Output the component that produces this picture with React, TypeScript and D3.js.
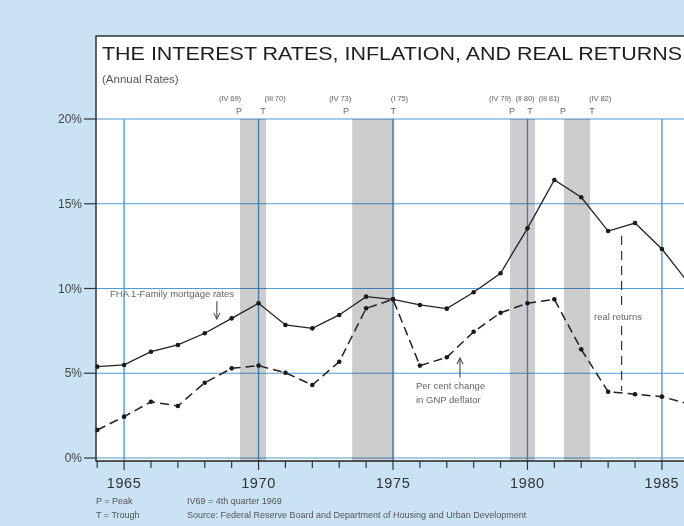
import React from 'react'
import * as d3 from 'd3'

const years = [1964, 1965, 1966, 1967, 1968, 1969, 1970, 1971, 1972, 1973, 1974, 1975,
  1976, 1977, 1978, 1979, 1980, 1981, 1982, 1983, 1984, 1985, 1986]
const mortgageRates = [5.39, 5.49, 6.27, 6.67, 7.36, 8.24, 9.13, 7.85, 7.65, 8.44, 9.52, 9.36,
  9.03, 8.81, 9.78, 10.9, 13.55, 16.4, 15.38, 13.39, 13.86, 12.33, 10.3]
const gnpDeflator = [1.65, 2.44, 3.32, 3.07, 4.44, 5.29, 5.45, 5.03, 4.31, 5.68, 8.83, 9.36,
  5.45, 5.94, 7.45, 8.57, 9.13, 9.36, 6.41, 3.91, 3.76, 3.62, 3.19]

const yTicks = [0, 5, 10, 15, 20]
const yearLabels = [1965, 1970, 1975, 1980, 1985]

// business cycle bands (decimal years) with their quarter labels
const recessionStarts = [1969.31, 1973.48, 1979.35, 1981.36]
const recessionEnds = [1970.28, 1975.05, 1980.28, 1982.33]
const peakLabels = ['(IV 69)', '(IV 73)', '(IV 79)', '(III 81)']
const troughLabels = ['(III 70)', '(I 75)', '(II 80)', '(IV 82)']

// real returns marker
const realReturnYear = 1983.5
const realReturnSpan = [13.1, 3.95]

// layout nudges for quarter labels (px), not data
const peakNudge = [-10, -12, -10, -15]
const troughNudge = [9, 5, -10, 10]
const letterNudgeP = [-1, -6, 2, -1]
const letterNudgeT = [-3, -1, -5, 2]

const W = 684
const H = 526
const BG = '#c9e2f4'
const GRID = '#4d9bd8'
const FONT = '"Liberation Sans", Arial, Helvetica, sans-serif'

export default function App() {
  const x = d3.scaleLinear().domain([1964, 1986]).range([97.2, 688.8])
  const y = d3.scaleLinear().domain([0, 20]).range([458, 119])

  const panelLeft = 95.5
  const panelTop = 36
  const axisY = 461

  const mortgagePts = years.map((yr, i) => [yr, mortgageRates[i]] as [number, number])
  const gnpPts = years.map((yr, i) => [yr, gnpDeflator[i]] as [number, number])

  const line = d3.line<[number, number]>()
    .x(d => x(d[0]))
    .y(d => y(d[1]))

  return (
    <svg width={W} height={H} style={{ position: 'absolute', left: 0, top: 0, fontFamily: FONT }}>
      <defs>
        <marker id="arrow" viewBox="0 0 10 10" refX="9" refY="5" markerWidth="7" markerHeight="7" orient="auto-start-reverse">
          <path d="M1,1 L9,5 L1,9" fill="none" stroke="#444" strokeWidth={1.3} />
        </marker>
        <clipPath id="plotClip">
          <rect x={panelLeft} y={panelTop} width={W - panelLeft} height={axisY - panelTop} />
        </clipPath>
      </defs>

      <rect x={0} y={0} width={W} height={H} fill={BG} />
      <rect x={panelLeft} y={panelTop} width={W - panelLeft} height={axisY - panelTop} fill="#fff" />
      <line x1={panelLeft} x2={W} y1={panelTop} y2={panelTop} stroke="#333" strokeWidth={1.6} />

      <text x={102} y={60} fontSize={18.5} fill="#1e1e1e" textLength={580} lengthAdjust="spacingAndGlyphs">
        THE INTEREST RATES, INFLATION, AND REAL RETURNS
      </text>
      <text x={102} y={83} fontSize={11.5} fill="#555">(Annual Rates)</text>

      {/* grid */}
      {yTicks.map(t => (
        <line key={'h' + t} x1={panelLeft} x2={W} y1={y(t)} y2={y(t)} stroke={GRID} strokeWidth={1.2} />
      ))}
      {yearLabels.map(yr => (
        <line key={'v' + yr} x1={x(yr)} x2={x(yr)} y1={y(20)} y2={axisY} stroke={GRID} strokeWidth={1.4} />
      ))}

      {/* recession bands */}
      {recessionStarts.map((s, i) => (
        <rect key={'r' + i} x={x(s)} width={x(recessionEnds[i]) - x(s)} y={y(20)} height={axisY - y(20)}
          fill="#cdcdcd" style={{ mixBlendMode: 'multiply' }} />
      ))}
      {recessionStarts.map((s, i) => (
        <g key={'rl' + i} fontSize={7.8} fill="#666" textAnchor="middle">
          <text x={x(s) + peakNudge[i]} y={101} letterSpacing={-0.2}>{peakLabels[i]}</text>
          <text x={x(recessionEnds[i]) + troughNudge[i]} y={101} letterSpacing={-0.2}>{troughLabels[i]}</text>
          <text x={x(s) + letterNudgeP[i]} y={114} fontSize={9}>P</text>
          <text x={x(recessionEnds[i]) + letterNudgeT[i]} y={114} fontSize={9}>T</text>
        </g>
      ))}

      {/* y axis */}
      <line x1={panelLeft + 0.5} x2={panelLeft + 0.5} y1={panelTop} y2={axisY} stroke="#222" strokeWidth={1.4} />
      {yTicks.map(t => (
        <g key={'yt' + t}>
          <line x1={84} x2={panelLeft} y1={y(t)} y2={y(t)} stroke="#333" strokeWidth={1.2} />
          <text x={82} y={y(t)} dy="0.35em" textAnchor="end" fontSize={12} fill="#444">{t}%</text>
        </g>
      ))}

      {/* x axis */}
      <line x1={panelLeft} x2={W} y1={axisY} y2={axisY} stroke="#222" strokeWidth={1.6} />
      {years.map(yr => (
        <line key={'xt' + yr} x1={x(yr)} x2={x(yr)} y1={axisY} y2={axisY + (yr % 5 === 0 ? 9 : 7)} stroke="#333" strokeWidth={1.2} />
      ))}
      {yearLabels.map(yr => (
        <text key={'xl' + yr} x={x(yr)} y={488} textAnchor="middle" fontSize={14.5} letterSpacing={0.6} fill="#333">{yr}</text>
      ))}

      {/* series */}
      <g clipPath="url(#plotClip)">
        <path d={line(mortgagePts) ?? ''} fill="none" stroke="#222" strokeWidth={1.3} />
        <path d={line(gnpPts) ?? ''} fill="none" stroke="#222" strokeWidth={1.5} strokeDasharray="9 5" />
        {mortgagePts.map((d, i) => (
          <circle key={'m' + i} cx={x(d[0])} cy={y(d[1])} r={2.3} fill="#1a1a1a" />
        ))}
        {gnpPts.map((d, i) => (
          <circle key={'g' + i} cx={x(d[0])} cy={y(d[1])} r={2.3} fill="#1a1a1a" />
        ))}

        {/* real returns */}
        <line x1={x(realReturnYear)} x2={x(realReturnYear)} y1={y(realReturnSpan[0])} y2={y(realReturnSpan[1])}
          stroke="#333" strokeWidth={1.2} strokeDasharray="9 6" />
        <rect x={x(realReturnYear) - 27} y={310} width={50} height={12} fill="#fff" />
        <text x={594} y={320} fontSize={9.5} fill="#666">real returns</text>
      </g>

      {/* annotations */}
      <text x={110} y={297} fontSize={9.5} fill="#666">FHA 1-Family mortgage rates</text>
      <line x1={x(1968.45)} x2={x(1968.45)} y1={y(9.25)} y2={y(8.2)} stroke="#444" strokeWidth={1.1} markerEnd="url(#arrow)" />
      <text x={416} y={389} fontSize={9.5} fill="#666">Per cent change</text>
      <text x={416} y={403} fontSize={9.5} fill="#666">in GNP deflator</text>
      <line x1={x(1977.49)} x2={x(1977.49)} y1={y(4.75)} y2={y(5.9)} stroke="#444" strokeWidth={1.1} markerEnd="url(#arrow)" />

      {/* footnotes */}
      <g fontSize={9} fill="#555">
        <text x={96} y={504}>P = Peak</text>
        <text x={96} y={518}>T = Trough</text>
        <text x={187} y={504}>IV69 = 4th quarter 1969</text>
        <text x={187} y={518}>Source: Federal Reserve Board and Department of Housing and Urban Development</text>
      </g>
    </svg>
  )
}
